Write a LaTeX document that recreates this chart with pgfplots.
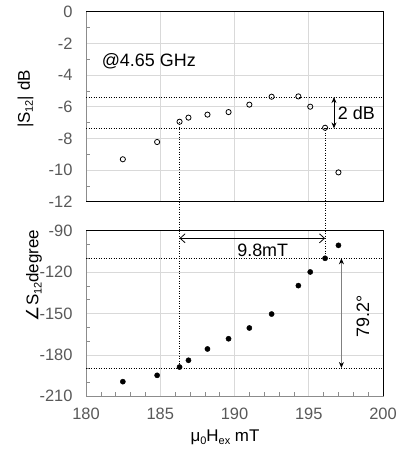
\documentclass[border=0pt]{standalone}
\usepackage{fontspec}
\setmainfont{Liberation Sans}
\newfontfamily\djv{DejaVu Sans}
\usepackage{pgfplots}
\pgfplotsset{compat=1.18}
\usepackage{pgfplotstable}
\usetikzlibrary{arrows.meta}

\definecolor{tickgray}{HTML}{595959}
\definecolor{gridgray}{HTML}{D9D9D9}
\definecolor{axgray}{HTML}{8C8C8C}

\newcommand{\sub}[1]{\raisebox{-0.35ex}{\fontsize{11}{11}\selectfont #1}}

% field (mT), |S12| (dB), phase of S12 (degree)
\pgfplotstableread{
H      S      P
182.48 -9.32  -199.4
184.79 -8.23  -194.8
186.30 -6.95  -188.8
186.90 -6.69  -183.9
188.18 -6.50  -175.7
189.60 -6.34  -168.3
191.00 -5.87  -160.5
192.50 -5.37  -150.4
194.30 -5.35  -129.8
195.10 -6.00  -119.9
196.10 -7.33  -110.0
197.00 -10.15 -100.6
}\data

\tikzset{dots/.style={dash pattern=on 1.2bp off 1.3bp, line width=0.9bp, black}}

\pgfplotsset{
  base/.style={
    scale only axis, width=297bp,
    xmin=180, xmax=200,
    xtick={180,185,...,200},
    grid=major, major grid style={gridgray, line width=0.8pt},
    tick style={axgray, line width=0.6pt},
    major tick length=0pt, minor tick length=4bp,
    tick align=inside,
    xtick pos=bottom, ytick pos=left,
    ticklabel style={font=\fontsize{16.5}{20}\selectfont, text=tickgray},
    yticklabel style={xshift=-10bp},
    xticklabel style={yshift=-8bp},
    /pgf/number format/assume math mode=true,
    label style={font=\fontsize{17}{20}\selectfont},
    axis line style={axgray, line width=1pt},
    clip=false,
  },
}

\begin{document}
\begin{tikzpicture}
\useasboundingbox (0,0) rectangle (407bp,450bp);

\begin{axis}[base,
    at={(86bp,248.3bp)}, anchor=south west,
    height=190bp,
    ymin=-12, ymax=0, ytick={-12,-10,...,0},
    minor y tick num=1,
    xticklabels={},
    ylabel={|S\sub{12}| dB},
    ylabel style={at={(axis description cs:-0.204,0.54)}, anchor=center},
]
\addplot[only marks, mark=o, mark size=2.6bp, mark options={line width=0.8pt}, black]
  table[x=H, y=S] {\data};
\draw[black, line width=1pt] (rel axis cs:0,1) -- (rel axis cs:1,1)
  -- (rel axis cs:1,0) -- (rel axis cs:0,0);
\draw[dots] (axis cs:180,-5.39) -- (axis cs:200,-5.39);
\draw[dots] (axis cs:180,-7.37) -- (axis cs:200,-7.37);
% vertical guides, run down into the gap between the panels
\draw[dots] (axis cs:186.3,-6.95) -- (axis cs:186.3,-13.85);
\draw[dots] (axis cs:196.1,-7.33) -- (axis cs:196.1,-13.85);
\draw[{Stealth[length=6bp,width=5bp]}-{Stealth[length=6bp,width=5bp]}, line width=0.8pt]
  (axis cs:196.7,-5.39) -- (axis cs:196.7,-7.37);
\node[anchor=west, font=\fontsize{18}{20}\selectfont, inner sep=0pt]
  at (axis cs:196.95,-6.38) {2 dB};
\node[anchor=west, font=\fontsize{18}{20}\selectfont, inner sep=0pt]
  at (axis cs:181.05,-3.1) {@4.65 GHz};
\end{axis}

\begin{axis}[base,
    at={(86bp,53.7bp)}, anchor=south west,
    height=165.6bp,
    ymin=-210, ymax=-90, ytick={-210,-180,...,-90},
    minor y tick num=2, minor x tick num=4,
    xlabel={μ\sub{0}H\sub{ex} mT},
    xlabel style={at={(axis description cs:0.468,-0.245)}, anchor=center},
    ylabel={{\djv ∠}S\sub{12}degree},
    ylabel style={at={(axis description cs:-0.175,0.73)}, anchor=center},
]
\addplot[only marks, mark=*, mark size=2.6bp, black]
  table[x=H, y=P] {\data};
\draw[black, line width=1pt] (rel axis cs:0,1) -- (rel axis cs:1,1) -- (rel axis cs:1,0);
\draw[dots] (axis cs:180,-110) -- (axis cs:200,-110);
\draw[dots] (axis cs:180,-189.5) -- (axis cs:200,-189.5);
\draw[dots] (axis cs:186.3,-90) -- (axis cs:186.3,-188.8);
\draw[dots] (axis cs:196.1,-90) -- (axis cs:196.1,-110);
\draw[{Straight Barb[length=5bp,width=9bp]}-{Straight Barb[length=5bp,width=9bp]}, line width=0.8pt]
  (axis cs:186.3,-95.5) -- (axis cs:196.1,-95.5);
\node[font=\fontsize{18}{20}\selectfont] at (axis cs:191.9,-104.3) {9.8mT};
\draw[gray, line width=0.9pt, {Stealth[black,length=6bp,width=5bp]}-{Stealth[black,length=6bp,width=5bp]}]
  (axis cs:197.2,-110) -- (axis cs:197.2,-189.5);
\node[rotate=90, font=\fontsize{18}{20}\selectfont] at (axis cs:198.65,-152) {79.2°};
\end{axis}
\end{tikzpicture}
\end{document}
